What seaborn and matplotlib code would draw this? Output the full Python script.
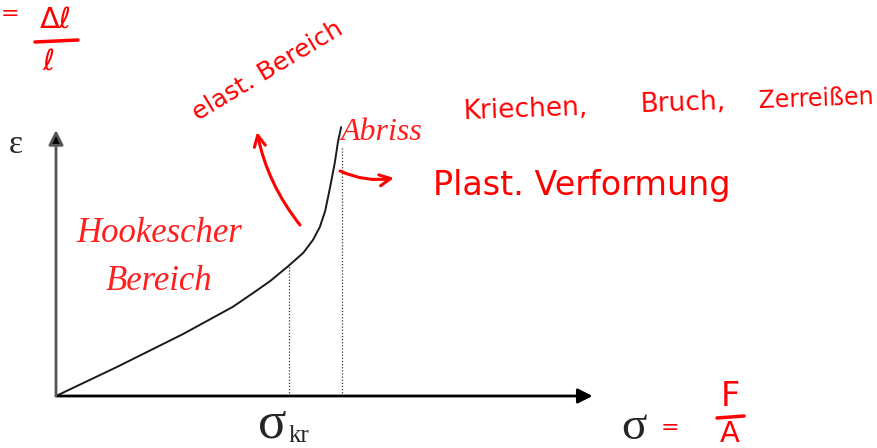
import matplotlib
matplotlib.use("Agg")
import matplotlib.pyplot as plt
import seaborn as sns

# stress (sigma) and strain (epsilon), arbitrary units
sigma = [0.0, 1.14, 2.38, 3.31, 3.69, 4.01, 4.33, 4.63, 4.81, 4.94, 5.04, 5.13, 5.22, 5.28, 5.34]
eps = [0.0, 1.09, 2.33, 3.35, 3.87, 4.32, 4.85, 5.38, 5.86, 6.35, 6.95, 7.82, 8.76, 9.55, 10.11]
sigma_kr = 4.37
eps_kr = 4.9
sigma_break = 5.36
eps_break = 9.4

RED = "#ff0000"
SERIF_RED = "#ff1f1f"
HAND = "DejaVu Sans"
SERIF = "Liberation Serif"

sns.set_style("white")
fig = plt.figure(figsize=(8.78, 4.48), dpi=100)

# main diagram axes: origin at the sketch's (56, 396) pixel
ax = fig.add_axes([56 / 878, 52 / 448, (616.7 - 56) / 878, 279.3 / 448])
ax.set_xlim(0, 10.5)
ax.set_ylim(0, 10.5)
ax.axis("off")

sns.lineplot(x=sigma, y=eps, ax=ax, color="#1a1a1a", lw=1.4, sort=False,
             estimator=None)
curve = ax.lines[-1]
curve.set_clip_on(False)
curve.set_solid_joinstyle("round")
ax.vlines([sigma_kr, sigma_break], 0, [eps_kr, eps_break], colors="#333333",
          linestyles=(0, (1, 1.5)), lw=0.9)

# coordinate arrows
ax.annotate("", xy=(10.05, 0), xytext=(0, 0), annotation_clip=False,
            arrowprops=dict(arrowstyle="-|>", lw=2, color="black",
                            mutation_scale=22, shrinkA=0, shrinkB=0))
ax.annotate("", xy=(0, 10.0), xytext=(0, 0), annotation_clip=False,
            arrowprops=dict(arrowstyle="-|>", lw=2, color="#555555",
                            mutation_scale=22, shrinkA=0, shrinkB=0,
                            fc="black", ec="#555555"))

# overlay in pixel coordinates for the labels and handwriting
ov = fig.add_axes([0, 0, 1, 1], facecolor="none")
ov.set_xlim(0, 878)
ov.set_ylim(448, 0)
ov.axis("off")

ov.text(16, 145, "ε", family=SERIF, fontsize=24, ha="center", va="center")
ov.text(272, 424, "σ", family=SERIF, fontsize=38, ha="center", va="center")
ov.text(299, 436, "kr", family=SERIF, fontsize=18, ha="center", va="center")
ov.text(634, 428, "σ", family=SERIF, fontsize=34, ha="center", va="center")

ov.text(159, 234, "Hookescher", family=SERIF, style="italic", fontsize=25,
        color=SERIF_RED, ha="center", va="center")
ov.text(159, 282, "Bereich", family=SERIF, style="italic", fontsize=25,
        color=SERIF_RED, ha="center", va="center")
ov.text(382, 133, "Abriss", family=SERIF, style="italic", fontsize=23,
        color=SERIF_RED, ha="center", va="center")

# handwritten notes
ov.text(1, 14, "=", family=HAND, fontsize=16, color=RED, ha="left", va="center")
ov.text(56, 20, "Δℓ", family=HAND, fontsize=21, color=RED, ha="center", va="center")
ov.plot([35, 78], [42, 40], color=RED, lw=2.5)
ov.text(48, 62, "ℓ", family=HAND, fontsize=21, color=RED, ha="center", va="center")

ov.text(268, 71, "elast. Bereich", family=HAND, fontsize=18, color=RED,
        rotation=31, ha="center", va="center")
ov.text(463, 110, "Kriechen,", family=HAND, fontsize=19, color=RED,
        ha="left", va="center", rotation=2)
ov.text(640, 104, "Bruch,", family=HAND, fontsize=19, color=RED,
        ha="left", va="center", rotation=2)
ov.text(758, 99, "Zerreißen", family=HAND, fontsize=17, color=RED,
        ha="left", va="center", rotation=2)
ov.text(433, 186, "Plast. Verformung", family=HAND, fontsize=24, color=RED,
        ha="left", va="center")

ov.text(670, 428, "=", family=HAND, fontsize=16, color=RED, ha="center", va="center")
ov.text(730, 397, "F", family=HAND, fontsize=24, color=RED, ha="center", va="center")
ov.plot([717, 744], [418, 416], color=RED, lw=2.5)
ov.text(730, 434, "A", family=HAND, fontsize=21, color=RED, ha="center", va="center")

ov.annotate("", xy=(257, 132), xytext=(300, 225),
            arrowprops=dict(arrowstyle="->", lw=2.2, color=RED,
                            mutation_scale=20, shrinkA=0, shrinkB=0,
                            connectionstyle="arc3,rad=-0.12"))
ov.annotate("", xy=(394, 178), xytext=(340, 171),
            arrowprops=dict(arrowstyle="->", lw=2.2, color=RED,
                            mutation_scale=20, shrinkA=0, shrinkB=0,
                            connectionstyle="arc3,rad=0.15"))

fig.savefig("out.png", dpi=100)
